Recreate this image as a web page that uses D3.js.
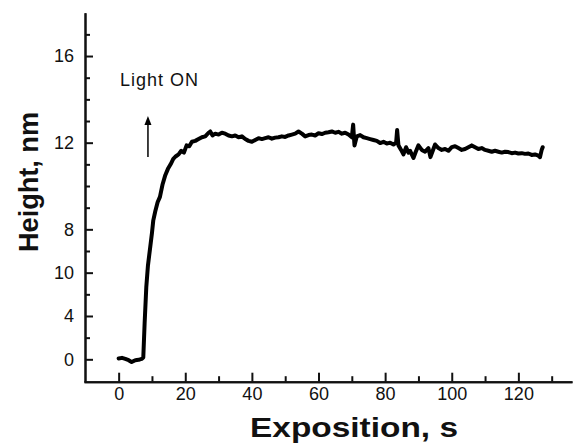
<!DOCTYPE html>
<html>
<head>
<meta charset="utf-8">
<script src="https://cdn.jsdelivr.net/npm/d3@7"></script>
<style>
  body { margin: 0; background: #fff; }
  svg { display: block; font-family: "Liberation Sans", Arial, sans-serif; }
</style>
</head>
<body>
<div id="chart"></div>
<script>
// time in seconds, height in nm
var timeValues = [0, 1, 2, 3, 3.9, 5, 6, 6.9, 7.4, 7.8, 8.3, 8.8, 9.4, 10, 10.4, 11, 11.7, 12.4, 13.2, 14, 14.8, 15.6, 16.4, 17.2, 18, 18.8, 19.6, 20.4, 21.2, 22,
  23, 24, 25, 26, 27, 27.5, 28.2, 29, 30, 31, 32, 33, 34, 35, 36, 37, 38, 39, 40, 41, 42, 43, 44, 45, 46, 47, 48, 49, 50,
  51, 52, 53, 54, 55, 56, 57, 58, 59, 60, 61, 62, 63, 64, 65, 66, 67, 68, 69, 70, 70.4, 70.8, 71.5, 72.5, 73.5, 74.5, 75.5, 76.5, 77.5, 78.5, 79.5,
  80.5, 81.5, 82.5, 83.3, 83.6, 84, 84.8, 85.5, 86.3, 87, 87.5, 88.5, 89.2, 90, 91, 92, 93, 93.6, 94.3, 95, 96, 97, 98, 99, 100,
  101, 102, 103, 104, 105, 106, 107, 108, 109, 110, 111, 112, 113, 114, 115, 116, 117, 118, 119, 120, 121, 122, 123, 124, 125, 126, 126.5, 127, 127.3];
var heightValues = [0.05, 0.08, 0.02, -0.05, -0.15, -0.05, -0.03, 0.02, 0.1, 2.0, 4.0, 5.2, 6.1, 7.0, 7.7, 8.2, 8.7, 9.0, 9.7, 10.2, 10.55, 10.8, 11.1, 11.25, 11.35, 11.55, 11.45, 11.85, 11.8, 12.05,
  12.1, 12.2, 12.3, 12.35, 12.55, 12.62, 12.4, 12.5, 12.45, 12.55, 12.5, 12.4, 12.35, 12.4, 12.3, 12.35, 12.2, 12.1, 12.05, 12.15, 12.25, 12.2, 12.25, 12.3, 12.22, 12.28, 12.3, 12.35, 12.32,
  12.4, 12.45, 12.5, 12.62, 12.5, 12.35, 12.42, 12.45, 12.4, 12.52, 12.48, 12.55, 12.58, 12.62, 12.55, 12.6, 12.5, 12.55, 12.45, 12.3, 13.0, 11.85, 12.35, 12.42, 12.3, 12.25, 12.2, 12.15, 12.1, 11.98, 12.05,
  11.95, 12.0, 11.9, 12.0, 12.7, 11.85, 11.6, 11.35, 11.75, 11.45, 11.55, 11.15, 11.5, 11.85, 11.6, 11.5, 11.7, 11.2, 11.55, 11.9, 11.7, 11.6, 11.65, 11.55, 11.75,
  11.8, 11.7, 11.6, 11.65, 11.75, 11.85, 11.75, 11.65, 11.7, 11.6, 11.55, 11.5, 11.55, 11.5, 11.45, 11.5, 11.48, 11.42, 11.45, 11.4, 11.42, 11.38, 11.4, 11.32, 11.35, 11.28, 11.2, 11.6, 11.75];

// axis ticks, labels as printed on the original figure
var xTickValues = [0, 20, 40, 60, 80, 100, 120];
var xMinorTicks = [10, 30, 50, 70, 90, 110, 130];
var yTickValues = [0, 2.4, 4.8, 7.2, 12, 16.8];
var yTickLabels = ["0", "4", "10", "8", "12", "16"];
var yMinorTicks = [1.2, 3.6, 6, 8.4, 9.6, 10.8, 13.2, 14.4, 15.6, 18];

var width = 575, height = 444;
var svg = d3.select("#chart").append("svg")
    .attr("width", width)
    .attr("height", height);

var x = d3.scaleLinear().domain([-10.4, 136.1]).range([84, 572]);
var y = d3.scaleLinear().domain([-1.24, 19.2]).range([381.7, 12.7]);

// minor ticks first, using the axis generator with empty labels
var xMinor = svg.append("g").attr("transform", "translate(0,381.7)");
xMinor.call(d3.axisBottom(x).tickValues(xMinorTicks).tickSize(-5.5).tickSizeOuter(0).tickFormat(""));
var yMinor = svg.append("g").attr("transform", "translate(85,0)");
yMinor.call(d3.axisLeft(y).tickValues(yMinorTicks).tickSize(-5).tickSizeOuter(0).tickFormat(""));

// x axis, ticks pointing inward
var xAxis = svg.append("g").attr("transform", "translate(0,381.7)");
xAxis.call(d3.axisBottom(x).tickValues(xTickValues).tickSize(-9).tickPadding(0).tickSizeOuter(0).tickFormat(d3.format("d")));
xAxis.selectAll("text").attr("y", 18).attr("dy", "0").attr("font-size", 18).attr("fill", "#111");

// y axis
var yAxis = svg.append("g").attr("transform", "translate(85,0)");
yAxis.call(d3.axisLeft(y).tickValues(yTickValues).tickSize(-8).tickSizeOuter(0)
    .tickFormat(function(d, i) { return yTickLabels[i]; }));
yAxis.selectAll("text").attr("x", -11).attr("font-size", 18).attr("fill", "#111");

svg.selectAll(".domain").attr("stroke", "#111").attr("stroke-width", 2);
svg.selectAll(".tick line").attr("stroke", "#111").attr("stroke-width", 2);
svg.selectAll(".tick text").attr("font-family", "'Liberation Sans', Arial, sans-serif");

// the measured curve
var line = d3.line()
    .x(function(d, i) { return x(timeValues[i]); })
    .y(function(d) { return y(d); });

svg.append("path")
    .datum(heightValues)
    .attr("fill", "none")
    .attr("stroke", "#000")
    .attr("stroke-width", 4)
    .attr("stroke-linejoin", "round")
    .attr("stroke-linecap", "round")
    .attr("d", line);

// "Light ON" note with arrow
svg.append("text")
    .attr("x", 120).attr("y", 86)
    .attr("font-size", 18)
    .attr("fill", "#111")
    .attr("textLength", 78)
    .text("Light ON");

svg.append("line")
    .attr("x1", x(8.8)).attr("x2", x(8.8))
    .attr("y1", 157).attr("y2", 122)
    .attr("stroke", "#000").attr("stroke-width", 1.5);
svg.append("path")
    .attr("d", d3.line()([[x(8.8) - 3.5, 125], [x(8.8), 116], [x(8.8) + 3.5, 125]]) + "Z")
    .attr("fill", "#000");

// axis titles
svg.append("text")
    .attr("x", 354).attr("y", 436.7)
    .attr("text-anchor", "middle")
    .attr("font-size", 28)
    .attr("font-weight", "bold")
    .attr("fill", "#111")
    .attr("textLength", 208)
    .attr("lengthAdjust", "spacingAndGlyphs")
    .text("Exposition, s");

svg.append("text")
    .attr("transform", "translate(38,182) rotate(-90)")
    .attr("text-anchor", "middle")
    .attr("font-size", 28)
    .attr("font-weight", "bold")
    .attr("fill", "#111")
    .attr("textLength", 140)
    .attr("lengthAdjust", "spacingAndGlyphs")
    .text("Height, nm");
</script>
</body>
</html>
